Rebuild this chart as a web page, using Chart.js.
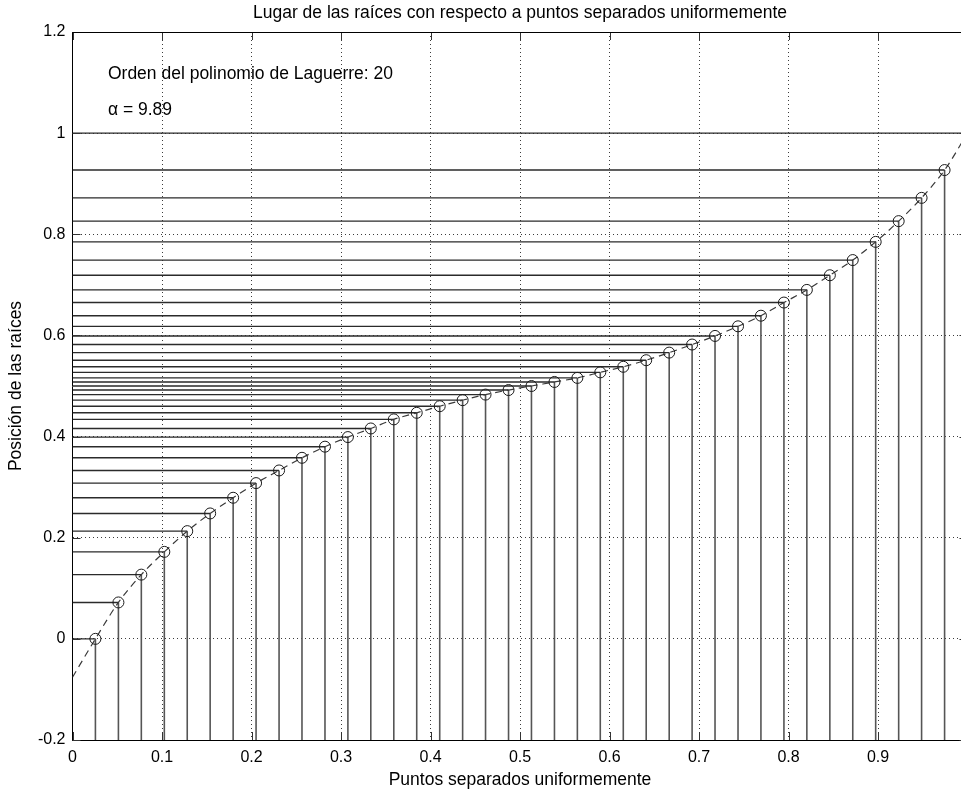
<!DOCTYPE html>
<html>
<head>
<meta charset="utf-8">
<script src="https://cdn.jsdelivr.net/npm/chart.js@4.4.1/dist/chart.umd.min.js"></script>
<style>
html, body { margin: 0; padding: 0; background: #ffffff; overflow: hidden; width: 961px; height: 792px; }
#wrap { width: 961px; height: 792px; overflow: hidden; position: relative; }
canvas { display: block; }
</style>
</head>
<body>
<div id="wrap"><canvas id="c" width="974" height="792"></canvas></div>
<script>
// ---- data ----
const xPoints = [0.0256, 0.0513, 0.0769, 0.1026, 0.1282, 0.1538, 0.1795, 0.2051, 0.2308, 0.2564,
                 0.2821, 0.3077, 0.3333, 0.3590, 0.3846, 0.4103, 0.4359, 0.4615, 0.4872, 0.5128,
                 0.5385, 0.5641, 0.5897, 0.6154, 0.6410, 0.6667, 0.6923, 0.7179, 0.7436, 0.7692,
                 0.7949, 0.8205, 0.8462, 0.8718, 0.8974, 0.9231, 0.9487, 0.9744, 1.0000];
const rootPositions = [0.000, 0.072, 0.127, 0.172, 0.213, 0.248, 0.279, 0.308, 0.333, 0.358,
                       0.380, 0.399, 0.416, 0.434, 0.447, 0.460, 0.472, 0.483, 0.492, 0.500,
                       0.508, 0.516, 0.527, 0.538, 0.551, 0.566, 0.582, 0.599, 0.618, 0.639,
                       0.665, 0.690, 0.719, 0.749, 0.785, 0.826, 0.872, 0.927, 1.000];
const curveStartX = [0];
const curveStartY = [-0.076];
const xTicks = [0, 0.1, 0.2, 0.3, 0.4, 0.5, 0.6, 0.7, 0.8, 0.9];
const xTickLabels = ['0', '0.1', '0.2', '0.3', '0.4', '0.5', '0.6', '0.7', '0.8', '0.9'];
const yTicks = [-0.2, 0, 0.2, 0.4, 0.6, 0.8, 1, 1.2];
const yTickLabels = ['-0.2', '0', '0.2', '0.4', '0.6', '0.8', '1', '1.2'];
const xRange = [0, 1];
const yRange = [-0.2, 1.2];
const chartTitle = 'Lugar de las raíces con respecto a puntos separados uniformemente';
const xAxisTitle = 'Puntos separados uniformemente';
const yAxisTitle = 'Posición de las raíces';
const noteTexts = ['Orden del polinomio de Laguerre: 20', 'α = 9.89'];
const noteX = [0.0396, 0.0396];
const noteY = [1.107, 1.036];

// ---- build library structures from the arrays ----
const points = xPoints.map((x, i) => ({ x: x, y: rootPositions[i] }));
const verticalSegs = [];
const horizontalSegs = [];
xPoints.forEach((x, i) => {
  verticalSegs.push({ x: x, y: yRange[0] }, { x: x, y: rootPositions[i] }, { x: x, y: null });
  horizontalSegs.push({ x: xRange[0], y: rootPositions[i] }, { x: x, y: rootPositions[i] }, { x: x, y: null });
});
const curvePts = curveStartX.map((x, i) => ({ x: x, y: curveStartY[i] })).concat(points);

const FONT = '"Liberation Sans", Arial, Helvetica, sans-serif';
Chart.defaults.font.family = FONT;
Chart.defaults.color = '#000';

const decor = {
  id: 'decor',
  afterDatasetsDraw(chart) {
    const { ctx, chartArea: a, scales } = chart;
    const xs = scales.x, ys = scales.y;
    ctx.save();
    // inward tick marks (MATLAB style)
    ctx.strokeStyle = '#333';
    ctx.lineWidth = 1;
    ctx.beginPath();
    xTicks.forEach(v => {
      const px = Math.round(xs.getPixelForValue(v)) + 0.5;
      ctx.moveTo(px, a.bottom); ctx.lineTo(px, a.bottom - 8);
      ctx.moveTo(px, a.top); ctx.lineTo(px, a.top + 8);
    });
    yTicks.forEach(v => {
      const py = Math.round(ys.getPixelForValue(v)) + 0.5;
      ctx.moveTo(a.left, py); ctx.lineTo(a.left + 8, py);
      ctx.moveTo(a.right, py); ctx.lineTo(a.right - 8, py);
    });
    ctx.stroke();
    // frame
    ctx.strokeStyle = '#000';
    ctx.beginPath();
    const t = Math.round(a.top) + 0.5;
    ctx.moveTo(a.left, t); ctx.lineTo(a.right, t);
    ctx.stroke();
    // notes
    ctx.fillStyle = '#000';
    ctx.font = '17.5px ' + FONT;
    ctx.textBaseline = 'alphabetic';
    ctx.textAlign = 'left';
    noteTexts.forEach((s, i) => {
      ctx.fillText(s, xs.getPixelForValue(noteX[i]), ys.getPixelForValue(noteY[i]));
    });
    ctx.restore();
  }
};

new Chart(document.getElementById('c'), {
  type: 'line',
  data: {
    datasets: [
      {
        label: 'raíces',
        data: points,
        showLine: false,
        pointStyle: 'circle',
        pointRadius: 5.5,
        pointBorderWidth: 1,
        pointBorderColor: '#1a1a1a',
        pointBackgroundColor: 'rgba(0,0,0,0)',
        borderColor: '#1a1a1a'
      },
      {
        label: 'curva',
        data: curvePts,
        borderColor: '#3a3a3a',
        borderWidth: 1.2,
        borderDash: [7, 5],
        pointRadius: 0,
        cubicInterpolationMode: 'monotone',
        fill: false
      },
      {
        label: 'horizontales',
        data: horizontalSegs,
        borderColor: '#2b2b2b',
        borderWidth: 1.4,
        pointRadius: 0,
        spanGaps: false,
        tension: 0,
        fill: false
      },
      {
        label: 'verticales',
        data: verticalSegs,
        borderColor: '#555555',
        borderWidth: 1.6,
        pointRadius: 0,
        spanGaps: false,
        tension: 0,
        fill: false
      }
    ]
  },
  options: {
    responsive: false,
    animation: false,
    events: [],
    layout: { padding: { left: 0, right: 1, top: 0, bottom: 0 } },
    plugins: {
      legend: { display: false },
      tooltip: { enabled: false },
      title: {
        display: true,
        text: chartTitle,
        fullSize: false,
        color: '#000',
        font: { size: 17.5, weight: 'normal', family: FONT },
        padding: { top: 3, bottom: 8 }
      }
    },
    scales: {
      x: {
        type: 'linear',
        min: xRange[0],
        max: xRange[1],
        afterBuildTicks: s => { s.ticks = xTicks.map(v => ({ value: v })); },
        afterFit: s => { s.height = 52; },
        ticks: {
          color: '#000',
          font: { size: 16, family: FONT },
          padding: 8,
          maxRotation: 0,
          autoSkip: false,
          callback: (v, i) => xTickLabels[i]
        },
        grid: { display: true, color: '#3c3c3c', lineWidth: 1, drawTicks: false },
        border: { display: true, color: '#000', width: 1, dash: [1, 3] },
        title: {
          display: true,
          text: xAxisTitle,
          color: '#000',
          font: { size: 17.5, family: FONT },
          padding: { top: 0, bottom: 1 }
        }
      },
      y: {
        type: 'linear',
        min: yRange[0],
        max: yRange[1],
        afterBuildTicks: s => { s.ticks = yTicks.map(v => ({ value: v })); },
        afterFit: s => { s.width = 72.5; },
        ticks: {
          color: '#000',
          font: { size: 16, family: FONT },
          padding: 7,
          autoSkip: false,
          callback: (v, i) => yTickLabels[i]
        },
        grid: { display: true, color: '#3c3c3c', lineWidth: 1, drawTicks: false },
        border: { display: true, color: '#000', width: 1, dash: [1, 3] },
        title: {
          display: true,
          text: yAxisTitle,
          color: '#000',
          font: { size: 17.5, family: FONT },
          padding: { top: 6, bottom: 0 }
        }
      }
    }
  },
  plugins: [decor]
});
</script>
</body>
</html>
